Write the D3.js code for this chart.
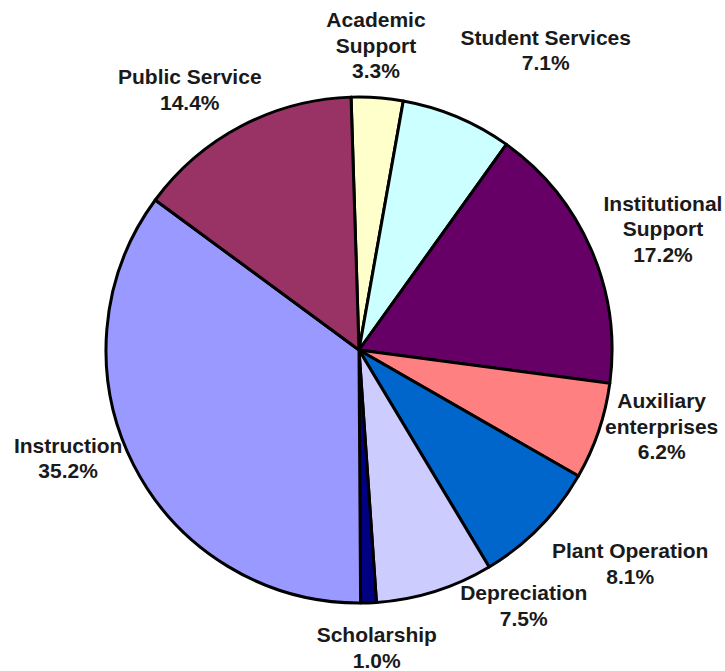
<!DOCTYPE html>
<html>
<head>
<meta charset="utf-8">
<script src="https://cdn.jsdelivr.net/npm/d3@7"></script>
<style>
  html, body { margin: 0; padding: 0; background: #fff; }
  svg { display: block; }
  .lbl { font-family: "Liberation Sans", Arial, sans-serif; font-weight: bold; font-size: 21px; fill: #1a1a1a; }
</style>
</head>
<body>
<div id="chart"></div>
<script>
// data, clockwise from 12 o'clock
var categories = ['Academic Support', 'Student Services', 'Institutional Support', 'Auxiliary enterprises',
  'Plant Operation', 'Depreciation', 'Scholarship', 'Instruction', 'Public Service']
var shares = [3.3, 7.1, 17.2, 6.2, 8.1, 7.5, 1.0, 35.2, 14.4]
var labelLines = [['Academic', 'Support'], ['Student Services'], ['Institutional', 'Support'],
  ['Auxiliary', 'enterprises'], ['Plant Operation'], ['Depreciation'], ['Scholarship'],
  ['Instruction'], ['Public Service']]

var colors = ['#ffffcc', '#ccffff', '#660066', '#ff8080', '#0066cc', '#ccccff', '#000080', '#9999ff', '#993366']
// label nudges (px) after the outside placement
var nudge = [[-5.6, -6], [51.5, -35], [8, -2], [0, -19], [27.7, 13], [66.8, -18], [5.6, 11], [-8.2, -22], [-13.5, -6]]

var width = 725
var height = 671
var cx = 359
var cy = 350
var radius = 253
var lineH = 25.5
var startDeg = -1.8

var svg = d3.select('#chart').append('svg')
  .attr('width', width)
  .attr('height', height)

var g = svg.append('g').attr('transform', 'translate(' + cx + ',' + cy + ')')

var pie = d3.pie()
  .sort(null)
  .value(function (d) { return d })
  .startAngle(startDeg / 180 * Math.PI)
  .endAngle(startDeg / 180 * Math.PI + 2 * Math.PI)

var arc = d3.arc().innerRadius(0).outerRadius(radius)
var arcs = pie(shares)

g.selectAll('path.slice')
  .data(arcs)
  .enter().append('path')
  .attr('class', 'slice')
  .attr('d', arc)
  .attr('fill', function (d, i) { return colors[i] })
  .attr('stroke', '#000')
  .attr('stroke-width', 3)
  .attr('stroke-linejoin', 'round')

// labels
var labels = g.selectAll('text.lbl')
  .data(arcs)
  .enter().append('text')
  .attr('class', 'lbl')
  .attr('text-anchor', 'middle')

labels.each(function (d, i) {
  var t = d3.select(this)
  var lines = labelLines[i].concat([d3.format('.1f')(shares[i]) + '%'])
  lines.forEach(function (s) {
    t.append('tspan').attr('x', 0).text(s)
  })
  // width at the old 17.5px size keeps the anchor offsets stable
  var w = d3.max(t.selectAll('tspan').nodes(), function (n) { return n.getComputedTextLength() }) * 17.5 / 21
  var h = lines.length * 24
  var mid = (d.startAngle + d.endAngle) / 2
  var dx = Math.sin(mid)
  var dy = -Math.cos(mid)
  var px = (radius + 10) * dx + dx * w / 2 + nudge[i][0] + dx * w * 0.1
  var py = (radius + 10) * dy + dy * h / 2 + nudge[i][1]
  t.selectAll('tspan')
    .attr('x', px)
    .attr('y', function (s, k) { return py + (k - (lines.length - 1) / 2) * lineH + 7 })
})
</script>
</body>
</html>
